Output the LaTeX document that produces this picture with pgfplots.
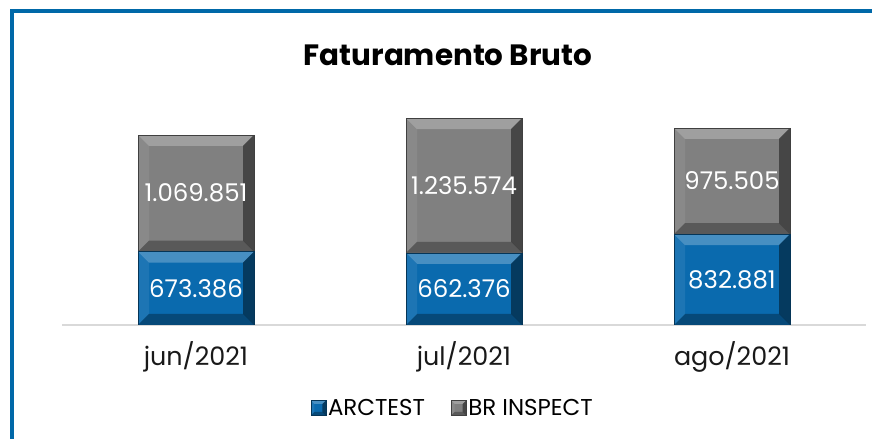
\documentclass[border=0pt]{standalone}
\usepackage{pgfplots}
\pgfplotsset{compat=1.18}
\usepackage{pgfplotstable}
\usepackage{fontspec}
\setmainfont{Poppins}
\definecolor{border}{HTML}{0068A8}
\definecolor{arcblue}{HTML}{0A6AAE}
\definecolor{brgrey}{HTML}{808080}
\pgfplotstableread{
x a b
0 673386 1069851
1 662376 1235574
2 832881 975505
}\data
\def\bev{11bp}
\def\pb#1{\pgfpointanchor{path picture bounding box}{#1}}
\def\pbs#1#2#3{\pgfpointadd{\pb{#1}}{\pgfpoint{#2}{#3}}}
\newcommand\bevquad[6]{\begin{pgfscope}\pgfsetfillcolor{#1}\pgfsetfillopacity{#2}\pgfpathmoveto{#3}\pgfpathlineto{#4}\pgfpathlineto{#5}\pgfpathlineto{#6}\pgfpathclose\pgfusepath{fill}\end{pgfscope}}
\tikzset{bevel/.style={path picture={%
  \bevquad{white}{0.25}{\pb{north west}}{\pb{north east}}{\pbs{north east}{-\bev}{-\bev}}{\pbs{north west}{\bev}{-\bev}}%
  \bevquad{white}{0.08}{\pb{north west}}{\pbs{north west}{\bev}{-\bev}}{\pbs{south west}{\bev}{\bev}}{\pb{south west}}%
  \bevquad{black}{0.45}{\pb{north east}}{\pb{south east}}{\pbs{south east}{-\bev}{\bev}}{\pbs{north east}{-\bev}{-\bev}}%
  \bevquad{black}{0.3}{\pb{south west}}{\pb{south east}}{\pbs{south east}{-\bev}{\bev}}{\pbs{south west}{\bev}{\bev}}%
}}}
\pgfplotsset{frame/.style={
  at={(62bp,114bp)}, anchor=south west,
  scale only axis, width=804bp, height=229bp,
  xmin=-0.5, xmax=2.5, ymin=0, ymax=2100}}
\newcommand\catbars[2]{%
\begin{axis}[frame, hide axis, ybar stacked, bar width=116bp, restrict x to domain=#1]
\addplot[fill=arcblue, draw=arcblue!50!black, line width=0.3bp, bevel] table[x=x,y expr=\thisrow{a}/1000] {\data};
\addplot[fill=brgrey, draw=brgrey!50!black, line width=0.3bp, bevel] table[x=x,y expr=\thisrow{b}/1000] {\data};
\end{axis}}
\begin{document}
\begin{tikzpicture}[x=1bp,y=1bp]
\useasboundingbox (0,0) rectangle (872,439);
\draw[line width=4bp, color=border] (12,0) -- (12,427.5) -- (872,427.5);
\node[font=\bfseries\fontsize{29.5}{32}\selectfont] at (448,384) {Faturamento Bruto};
\begin{axis}[
  frame,
  axis y line=none, axis x line*=bottom,
  x axis line style={draw=black!15, line width=1.5bp, -},
  xtick={0,1,2}, xticklabels={jun/2021,jul/2021,ago/2021},
  major tick length=0,
  xticklabel style={font=\fontsize{25.5}{27}\selectfont, text=black!90, yshift=-13bp},
  legend style={at={(0.486,-0.362)}, anchor=center, draw=none, font=\fontsize{23}{25}\selectfont, legend columns=2, /tikz/every even column/.append style={column sep=24bp}},
  legend image code/.code={\def\bev{3.5bp}\fill[#1] (0bp,-7.5bp) rectangle (15bp,7.5bp);},
]
\addlegendimage{fill=arcblue, draw=arcblue!50!black, line width=0.3bp, bevel}
\addlegendimage{fill=brgrey, draw=brgrey!50!black, line width=0.3bp, bevel}
\legend{ARCTEST, BR INSPECT}
\end{axis}
\catbars{-0.2:0.2}{}
\catbars{0.8:1.2}{}
\catbars{1.8:2.2}{}
\begin{axis}[
  frame, hide axis, clip=false,
  point meta=explicit,
  nodes near coords={\pgfmathprintnumber[fixed,precision=0,1000 sep={.},assume math mode=true]{\pgfplotspointmeta}},
  every node near coord/.append style={font=\fontsize{24.5}{26}\selectfont, text=white, anchor=center, inner sep=0pt},
]
\addplot[only marks, mark=none] table[x=x,y expr=\thisrow{a}/2000,meta=a] {\data};
\addplot[only marks, mark=none] table[x=x,y expr=(\thisrow{a}+\thisrow{b}/2)/1000,meta=b] {\data};
\end{axis}
\end{tikzpicture}
\end{document}
